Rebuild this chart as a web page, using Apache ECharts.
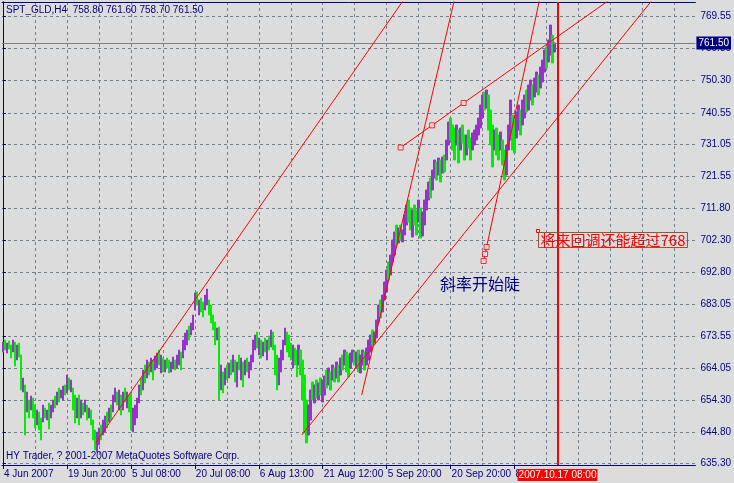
<!DOCTYPE html>
<html><head><meta charset="utf-8">
<script src="https://cdn.jsdelivr.net/npm/echarts@6/dist/echarts.min.js"></script>
<style>html,body{margin:0;padding:0;background:#dcdcdc;}#c{width:734px;height:483px;}</style>
</head><body><div id="c"></div>
<script>
// ---- data (prices, one H4 bar every 2 px) ----
const xTickBars = [0, 32, 64, 96, 128, 160, 192, 224, 256];
const xTickLabels = ['4 Jun 2007', '19 Jun 20:00', '5 Jul 08:00', '20 Jul 08:00', '6 Aug 13:00', '21 Aug 12:00', '5 Sep 20:00', '20 Sep 20:00', '8 Oct 08:00'];
const xGridBars = [0, 16, 32, 48, 64, 80, 96, 112, 128, 144, 160, 176, 192, 208, 224, 240, 256, 272, 288, 304, 320, 336];
const yTickValues = [635.30, 644.80, 654.30, 664.05, 673.55, 683.05, 692.80, 702.30, 711.80, 721.55, 731.05, 740.55, 750.30, 759.80, 769.55];

const barHigh = [
 671.8,672.4,671.5,672.1,670.9,672.4,671.8,670.9,671.5,667.9,
 661.0,658.9,656.8,654.4,655.6,655.0,652.9,651.4,650.8,649.0,
 652.9,652.0,651.4,653.5,652.9,654.4,655.6,656.8,658.0,657.4,
 658.6,658.9,661.9,661.0,660.4,658.0,655.9,655.0,655.9,654.4,
 653.5,654.4,652.9,652.0,651.4,648.4,645.4,644.8,646.0,646.9,
 648.4,649.6,650.8,652.0,652.9,655.9,658.0,656.8,657.4,655.9,
 656.8,658.0,656.8,655.9,656.5,652.0,652.9,655.0,658.9,661.0,
 663.4,664.9,666.4,665.8,667.0,666.4,667.6,668.5,669.4,667.9,
 667.0,666.4,667.0,666.4,665.8,667.3,666.4,667.9,669.4,668.8,
 672.4,674.5,675.4,676.6,677.5,679.9,686.5,686.8,684.4,685.0,
 683.8,685.9,687.7,684.4,682.9,679.9,677.8,676.0,676.3,664.9,
 662.8,664.0,664.9,665.5,666.4,667.9,666.4,665.8,667.9,667.0,
 665.8,666.4,667.0,665.8,667.9,672.4,673.9,674.8,673.0,672.4,
 671.8,673.0,672.4,673.6,675.4,674.8,670.9,667.9,667.0,669.4,
 672.4,676.0,674.8,673.9,671.5,670.9,670.0,669.4,670.9,669.4,
 666.4,661.9,654.4,652.9,657.4,659.8,658.9,660.4,659.5,661.0,
 660.4,661.6,663.4,664.0,662.8,664.9,664.0,665.8,664.9,667.0,
 667.9,669.4,668.8,667.9,668.5,669.4,668.8,668.8,669.4,667.9,
 669.4,668.8,670.0,672.4,673.9,675.4,674.8,678.4,682.9,684.4,
 685.9,689.8,693.4,695.8,697.9,702.4,704.8,706.9,706.0,706.9,
 705.4,709.9,712.9,714.4,712.0,711.4,712.9,711.4,714.4,712.0,
 710.8,714.4,717.4,719.8,721.0,723.4,726.4,725.8,727.0,726.4,
 727.3,727.9,732.4,737.8,739.0,736.9,736.0,736.9,735.4,736.0,
 736.9,733.9,733.9,735.4,733.0,734.5,735.4,736.9,739.0,742.9,
 745.9,746.8,747.4,745.9,741.4,736.9,735.4,736.0,733.9,734.8,
 732.4,729.4,730.9,736.9,744.4,739.9,738.4,740.8,742.9,741.4,
 744.4,745.9,747.4,748.9,750.4,748.9,751.0,752.8,751.9,754.3,
 756.4,759.4,760.3,762.4,766.9,763.9
];
const barLow = [
 668.8,669.4,668.5,669.7,667.0,668.8,664.6,666.4,667.3,657.4,
 656.8,643.9,650.8,649.0,651.4,649.0,646.0,646.9,645.4,642.4,
 647.8,649.0,648.4,645.7,649.0,650.8,652.0,652.9,653.8,655.0,
 654.4,655.9,656.5,657.4,656.8,651.4,647.5,649.0,646.9,649.0,
 649.9,650.8,648.4,649.0,646.9,642.4,639.4,638.8,640.9,642.4,
 643.9,644.8,646.0,647.8,648.4,650.8,653.8,652.9,651.4,649.9,
 651.4,653.8,652.0,650.8,645.4,644.8,646.9,649.0,653.5,655.9,
 657.4,659.5,661.0,661.9,662.8,660.4,663.4,664.0,664.9,662.5,
 662.8,662.8,664.0,662.5,662.8,663.7,663.4,664.0,664.9,663.4,
 667.0,669.4,670.9,672.4,673.9,675.4,681.4,682.9,679.9,680.8,
 679.3,681.4,682.9,679.9,677.5,675.4,670.9,672.4,654.4,657.4,
 656.5,658.9,660.4,661.0,661.9,662.8,659.8,658.3,663.4,660.4,
 658.3,661.9,662.8,661.0,663.4,665.8,669.4,670.0,667.9,667.0,
 667.6,668.8,666.4,669.4,670.3,669.4,661.9,657.4,658.9,662.8,
 666.4,670.9,668.8,667.3,666.4,664.0,664.9,661.3,664.9,661.9,
 654.4,644.5,641.5,643.9,648.4,654.4,653.5,655.0,654.4,655.9,
 653.8,655.9,658.0,658.9,657.4,660.4,659.8,661.0,659.8,661.9,
 663.4,664.9,662.8,661.3,664.0,665.8,664.9,664.0,662.8,662.5,
 664.9,663.4,664.9,666.4,668.8,670.9,671.5,673.0,677.8,679.0,
 680.8,684.4,686.8,690.4,691.9,695.8,697.9,700.9,701.5,702.4,
 701.8,703.9,706.9,707.8,705.4,703.3,706.9,703.9,707.8,703.0,
 703.6,706.9,711.4,714.4,715.0,717.4,721.0,720.4,721.9,719.8,
 722.5,722.8,726.4,730.9,732.4,729.4,726.4,730.9,725.5,729.4,
 731.5,726.4,727.9,730.0,726.4,729.4,730.9,732.4,733.9,736.0,
 739.0,741.4,742.0,735.4,730.9,724.3,729.4,727.9,726.4,729.4,
 724.9,720.4,721.9,729.4,732.4,729.4,728.5,733.0,735.4,733.9,
 736.9,739.0,740.8,741.4,744.4,742.9,745.3,746.8,745.9,748.0,
 749.8,752.8,754.0,755.8,757.9,755.5
];
const barUp = [
 1,0,1,0,0,1,0,1,0,0, 1,0,1,0,1,0,0,1,0,0, 1,0,1,0,1,1,0,1,0,1, 1,0,1,0,1,0,0,1,0,1,
 0,1,0,1,0,0,0,1,1,0, 1,1,0,1,0,1,1,0,1,0, 1,0,1,0,0,1,1,1,1,0, 1,0,1,0,1,0,1,1,0,1,
 0,1,0,0,1,1,0,1,1,0, 1,1,1,0,1,1,1,0,1,0, 0,1,1,0,0,0,0,1,0,1, 0,1,0,1,0,1,0,1,0,1,
 0,1,0,1,1,1,1,0,1,0, 1,0,1,0,1,0,0,0,1,1, 1,1,0,0,0,1,0,0,1,0, 0,0,0,1,1,0,1,0,1,0,
 1,1,0,1,0,1,0,1,0,1, 0,1,0,0,1,1,0,1,0,1, 1,0,1,1,1,0,1,1,1,0, 1,1,1,0,1,1,1,0,1,0,
 1,1,1,0,0,1,0,0,1,0, 1,1,1,1,0,1,1,0,1,0, 1,0,1,1,0,0,0,1,0,1, 0,0,1,0,0,1,1,1,1,1,
 1,0,1,0,0,0,1,0,0,1, 0,0,1,1,1,0,0,1,1,0, 1,1,0,1,1,0,1,1,0,1, 1,1,0,1,1,0
];
// last (current) bar, from the title line: open high low close
const lastBarOHLC = [758.80, 761.60, 758.70, 761.50];

// trend lines: two anchors each [bar, price]; drawn as rays
const trendStart = [[46.5, 641.7], [149.5, 643.9], [179.5, 655.9], [199, 730.15], [240.5, 696.1]];
const trendEnd   = [[103, 690.4], [212, 690.4], [193, 690.4], [230.5, 743.5], [242, 700.3]];
// selection handles of the two selected lines
const handlePoints = [[199, 730.15], [214.75, 736.8], [230.5, 743.5], [240.5, 696.1], [241.25, 698.2], [242, 700.3]];
// vertical line object
const vLineBar = 277.5;
const vLineLabel = '2007.10.17 08:00';

const titleText = 'SPT_GLD,H4  758.80 761.60 758.70 761.50';
const copyText = 'HY Trader, ? 2001-2007 MetaQuotes Software Corp.';
const noteText1 = '斜率开始陡';
const noteText2 = '将来回调还能超过768';

// ---- chart ----
const X_MIN = -0.5, X_MAX = 346.5, Y_MIN = 634.9, Y_MAX = 773.8;
const NAVY = '#000080', GRIDC = '#708090', UPC = '#9932cc', DNC = '#00ee00';
const FONT = "'Liberation Sans',Arial,sans-serif";
const FS = 10;

const candles = barHigh.map((h, i) => {
  const l = barLow[i];
  return barUp[i] ? [i, l, h, l, h] : [i, h, l, l, h];
});
candles.push([barHigh.length, lastBarOHLC[0], lastBarOHLC[3], lastBarOHLC[2], lastBarOHLC[1]]);

function ray(a, b) {
  const t = (X_MAX - a[0]) / (b[0] - a[0]);
  return [a, [X_MAX, a[1] + (b[1] - a[1]) * t]];
}
const lineSeries = trendStart.map((a, i) => ({
  type: 'line', data: ray(a, trendEnd[i]), symbol: 'none', clip: true, silent: true,
  lineStyle: {color: '#ff0000', width: 1}, z: 5, animation: false
}));

const chart = echarts.init(document.getElementById('c'));
chart.setOption({
  animation: false,
  backgroundColor: '#dcdcdc',
  grid: {left: 2, right: 38, top: 2, bottom: 18, show: false},
  xAxis: [{
    type: 'value', min: X_MIN, max: X_MAX, position: 'bottom',
    axisLine: {show: true, lineStyle: {color: NAVY, width: 1}},
    axisTick: {show: true, length: 4, customValues: xTickBars, lineStyle: {color: NAVY}},
    axisLabel: {show: true, customValues: xTickBars, align: 'left', margin: 4, color: NAVY,
      fontFamily: FONT, fontSize: FS, padding: [0, 0, 0, 1],
      formatter: v => { const i = xTickBars.indexOf(Math.round(v)); return i >= 0 ? xTickLabels[i] : ''; }},
    splitLine: {show: false}
  }, {
    type: 'value', min: X_MIN, max: X_MAX, position: 'top',
    axisLine: {show: true, lineStyle: {color: NAVY, width: 1}},
    axisTick: {show: false, customValues: xGridBars},
    axisLabel: {show: false},
    splitLine: {show: true, lineStyle: {color: GRIDC, type: [3, 3], width: 1}}
  }],
  yAxis: [{
    type: 'value', min: Y_MIN, max: Y_MAX, position: 'right',
    axisLine: {show: true, lineStyle: {color: NAVY, width: 1}},
    axisTick: {show: true, length: 3, customValues: yTickValues, lineStyle: {color: NAVY}},
    axisLabel: {show: true, customValues: yTickValues, margin: 5, color: NAVY, fontFamily: FONT, fontSize: FS,
      formatter: v => v.toFixed(2)},
    splitLine: {show: true, lineStyle: {color: GRIDC, type: [3, 3], width: 1}}
  }, {
    type: 'value', min: Y_MIN, max: Y_MAX, position: 'left',
    axisLine: {show: true, lineStyle: {color: NAVY, width: 1}},
    axisTick: {show: false}, axisLabel: {show: false}, splitLine: {show: false}
  }],
  series: [{
    type: 'candlestick', data: candles, barWidth: 2, silent: true, z: 3,
    itemStyle: {color: UPC, color0: DNC, borderColor: UPC, borderColor0: DNC, borderWidth: 1},
    markLine: {
      silent: true, symbol: 'none', animation: false,
      data: [{
        yAxis: lastBarOHLC[3],
        lineStyle: {color: '#808080', width: 1, type: 'solid'},
        label: {show: true, position: 'end', distance: 1, formatter: p => p.value.toFixed(2),
          color: '#ffffff', backgroundColor: NAVY, padding: [2, 2, 1, 2], fontFamily: FONT, fontSize: FS}
      }, {
        xAxis: vLineBar,
        lineStyle: {color: '#ff0000', width: 2, type: 'solid'},
        label: {show: true, position: 'start', distance: 4, formatter: vLineLabel,
          color: '#ffffff', backgroundColor: '#ff0000', padding: [1, 1, 1, 1], fontFamily: FONT, fontSize: FS}
      }]
    }
  }, ...lineSeries, {
    type: 'scatter', data: handlePoints, symbol: 'rect', symbolSize: 5, silent: true, z: 6,
    itemStyle: {color: '#e8e8e8', borderColor: '#ff0000', borderWidth: 1}
  }],
  graphic: [
    {type: 'text', x: 6, y: 10.5, z: 10, style: {text: titleText, fill: NAVY, font: FS + 'px ' + FONT, verticalAlign: 'middle'}},
    {type: 'text', x: 6, y: 456.5, z: 10, style: {text: copyText, fill: NAVY, font: FS + 'px ' + FONT, verticalAlign: 'middle'}},
    {type: 'text', left: 440, top: 276, z: 10, style: {text: noteText1, fill: NAVY, font: "16px 'Noto Sans CJK SC'"}},
    {type: 'text', left: 538, top: 232, z: 10, style: {text: noteText2, fill: '#ff0000', font: "15px 'Noto Sans CJK SC'",
      borderColor: '#a0522d', borderWidth: 1, padding: [0, 2, 0, 2], lineHeight: 15}},
    {type: 'rect', left: 536, top: 229, z: 11, shape: {width: 3, height: 3}, style: {fill: '#ffffff', stroke: '#ff0000', lineWidth: 1}}
  ]
});
</script></body></html>
